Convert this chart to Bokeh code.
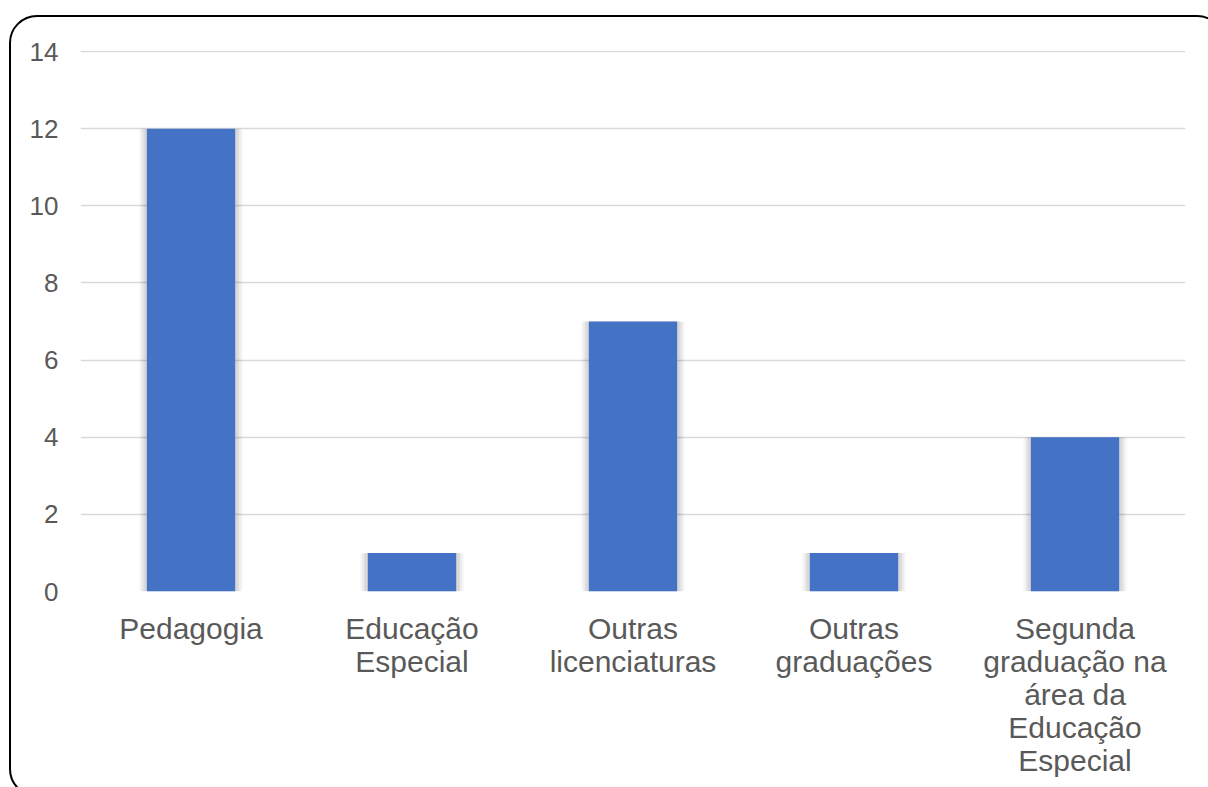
from bokeh.plotting import figure
from bokeh.models import ColumnDataSource, FixedTicker, Range1d
from bokeh.embed import file_html
from bokeh.resources import INLINE

categories = ["Pedagogia", "Educação\nEspecial", "Outras\nlicenciaturas", "Outras\ngraduações",
              "Segunda\ngraduação na\nárea da\nEducação\nEspecial"]
values = [12, 1, 7, 1, 4]
y_ticks = [0, 2, 4, 6, 8, 10, 12, 14]

src = ColumnDataSource(dict(cat=categories, val=values))

p = figure(width=1208, height=787, x_range=categories, y_range=Range1d(0, 14.026),
           output_backend="svg", toolbar_location=None,
           min_border_left=80, min_border_right=23, min_border_top=50, min_border_bottom=196)
p.outline_line_color = None
p.background_fill_color = "white"
p.border_fill_color = "white"

# soft shadow
for w, a in [(0.47, 0.03), (0.45, 0.05), (0.43, 0.07)]:
    p.vbar(x="cat", top="val", width=w, source=src, fill_color="#000000", fill_alpha=a,
           line_color=None)
p.vbar(x="cat", top="val", width=0.4, source=src, fill_color="#4472C4", line_color=None)

p.xgrid.grid_line_color = None
p.ygrid.grid_line_color = "#D9D9D9"
p.ygrid.grid_line_width = 1.5
p.yaxis.ticker = FixedTicker(ticks=y_ticks)

for ax in (p.xaxis[0], p.yaxis[0]):
    ax.axis_line_color = None
    ax.major_tick_line_color = None
    ax.minor_tick_line_color = None
    ax.major_tick_in = 0
    ax.major_tick_out = 0
    ax.major_label_text_color = "#595959"
    ax.major_label_text_font = "Liberation Sans"

p.yaxis.major_label_text_font_size = "26px"
p.yaxis.major_label_standoff = 22
p.xaxis.major_label_text_font_size = "30px"
p.xaxis.major_label_standoff = 20
p.xaxis.major_label_text_line_height = 1.0

p.stylesheets = [""":host { position: relative; overflow: hidden; }
:host::after { content: ""; position: absolute; left: 9px; top: 15px; width: 1216px; height: 782px;
  border: 2.5px solid #000; border-radius: 28px; pointer-events: none; box-sizing: border-box; }"""]

open("out.html", "w").write(file_html(p, INLINE))
